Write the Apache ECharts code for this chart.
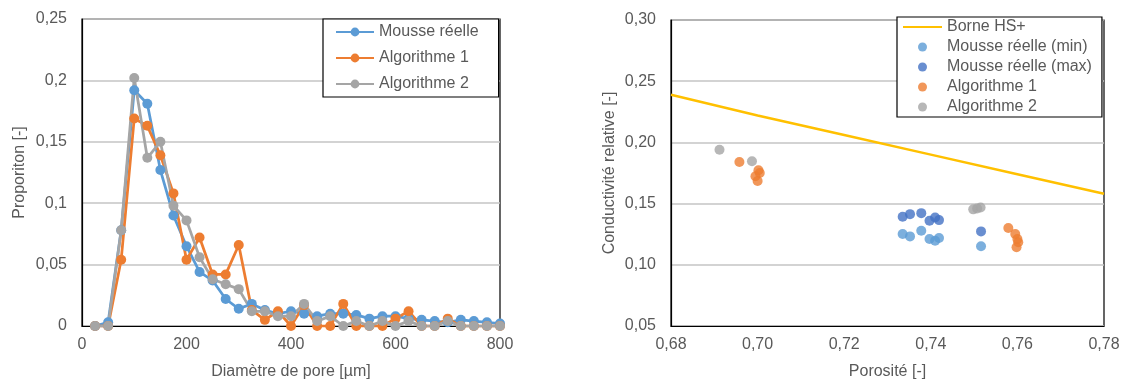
<!DOCTYPE html>
<html>
<head>
<meta charset="utf-8">
<script src="https://cdn.jsdelivr.net/npm/echarts@6/dist/echarts.min.js"></script>
<style>
  html, body { margin: 0; padding: 0; background: #fff; }
  #chart { width: 1123px; height: 385px; }
</style>
</head>
<body>
<div id="chart"></div>
<script>
// left chart: pore size distribution
const diametre = [25, 50, 75, 100, 125, 150, 175, 200, 225, 250, 275, 300, 325, 350, 375, 400,
  425, 450, 475, 500, 525, 550, 575, 600, 625, 650, 675, 700, 725, 750, 775, 800];
const mousseReelle = [0, 0.003, 0.078, 0.192, 0.181, 0.127, 0.09, 0.065, 0.044, 0.037, 0.022, 0.014,
  0.018, 0.013, 0.01, 0.012, 0.01, 0.008, 0.01, 0.01, 0.009, 0.006, 0.008, 0.008, 0.006, 0.005,
  0.004, 0.003, 0.005, 0.004, 0.003, 0.002];
const algo1 = [0, 0, 0.054, 0.169, 0.163, 0.139, 0.108, 0.054, 0.072, 0.042, 0.042, 0.066,
  0.013, 0.005, 0.012, 0, 0.017, 0, 0, 0.018, 0, 0, 0, 0.006, 0.012, 0, 0, 0.006, 0, 0, 0, 0];
const algo2 = [0, 0, 0.078, 0.202, 0.137, 0.15, 0.098, 0.086, 0.056, 0.038, 0.034, 0.03,
  0.012, 0.012, 0.008, 0.008, 0.018, 0.004, 0.008, 0, 0.004, 0, 0.004, 0, 0.004, 0, 0, 0.004, 0, 0, 0, 0];

// right chart: relative conductivity vs porosity
const hsPorosite = [0.68, 0.70, 0.72, 0.74, 0.76, 0.78];
const hsBorne = [0.239, 0.222, 0.206, 0.190, 0.174, 0.158];
const mousseMin = [[0.7335, 0.1251], [0.7352, 0.1232], [0.7378, 0.1278], [0.7397, 0.1211],
  [0.741, 0.1197], [0.7419, 0.1219], [0.7516, 0.1151]];
const mousseMax = [[0.7335, 0.1392], [0.7352, 0.1414], [0.7378, 0.1422], [0.7397, 0.136],
  [0.741, 0.1386], [0.7419, 0.1365], [0.7516, 0.1273]];
const algo1Pts = [[0.6958, 0.184], [0.7002, 0.1773], [0.7005, 0.175], [0.6995, 0.1724], [0.7, 0.1684],
  [0.7579, 0.13], [0.7595, 0.1251], [0.76, 0.121], [0.7602, 0.1184], [0.7598, 0.1143]];
const algo2Pts = [[0.6912, 0.194], [0.6987, 0.1846], [0.7498, 0.1453], [0.7507, 0.146], [0.7515, 0.1468]];

const textColor = "#595959";
const font = "'Liberation Sans', Arial, sans-serif";
const gridLine = { lineStyle: { color: "#C4C4C4", width: 1.5 } };

const comma = (v, d) => (d == null ? String(Math.round(v * 100) / 100) : v.toFixed(d)).replace(".", ",");

const chart = echarts.init(document.getElementById("chart"));

const lineSerie = (name, values, color) => ({
  name,
  type: "line",
  xAxisIndex: 0,
  yAxisIndex: 0,
  data: diametre.map((d, i) => [d, values[i]]),
  symbol: "circle",
  symbolSize: 10,
  color,
  lineStyle: { width: 2.75 }
});

const scatterSerie = (name, points, color) => ({
  name,
  type: "scatter",
  xAxisIndex: 1,
  yAxisIndex: 1,
  data: points,
  symbolSize: 10,
  color
});

const option = {
  animation: false,
  textStyle: { fontFamily: font, color: textColor },
  grid: [
    { left: 82, top: 19, width: 418, height: 308, show: true, borderColor: "#000", borderWidth: 1.2 },
    { left: 671, top: 20, width: 433, height: 307, show: true, borderColor: "#000", borderWidth: 1.2 }
  ],
  legend: [
    {
      data: ["Mousse réelle", "Algorithme 1", "Algorithme 2"],
      orient: "vertical",
      left: 323,
      top: 19,
      padding: [5, 20, 5, 12],
      itemGap: 10,
      itemWidth: 38,
      itemHeight: 11,
      borderColor: "#000",
      borderWidth: 1.2,
      backgroundColor: "#fff",
      textStyle: { fontFamily: font, fontSize: 16, color: textColor }
    },
    {
      data: [
        { name: "Borne HS+", itemStyle: { opacity: 0 } },
        "Mousse réelle (min)", "Mousse réelle (max)", "Algorithme 1 ", "Algorithme 2 "
      ],
      orient: "vertical",
      left: 897,
      top: 17,
      padding: [2, 10, 2, 5],
      itemGap: 4,
      itemWidth: 39,
      itemHeight: 9,
      borderColor: "#000",
      borderWidth: 1.2,
      backgroundColor: "#fff",
      textStyle: { fontFamily: font, fontSize: 16, color: textColor }
    }
  ],
  xAxis: [
    {
      gridIndex: 0,
      type: "value",
      min: 0,
      max: 800,
      interval: 200,
      name: "Diamètre de pore [µm]",
      nameLocation: "middle",
      nameGap: 38,
      nameTextStyle: { fontSize: 16, color: textColor, fontFamily: font },
      axisLine: { lineStyle: { color: "#000", width: 1.2 } },
      axisTick: { show: false },
      splitLine: { show: false },
      axisLabel: { fontSize: 16, color: textColor, margin: 11 }
    },
    {
      gridIndex: 1,
      type: "value",
      min: 0.68,
      max: 0.78,
      interval: 0.02,
      name: "Porosité [-]",
      nameLocation: "middle",
      nameGap: 38,
      nameTextStyle: { fontSize: 16, color: textColor, fontFamily: font },
      axisLine: { lineStyle: { color: "#000", width: 1.2 } },
      axisTick: { show: false },
      splitLine: { show: false },
      axisLabel: { fontSize: 16, color: textColor, margin: 11, formatter: (v) => comma(v, 2) }
    }
  ],
  yAxis: [
    {
      gridIndex: 0,
      type: "value",
      min: 0,
      max: 0.25,
      interval: 0.05,
      name: "Proporiton [-]",
      nameLocation: "middle",
      nameGap: 54,
      nameTextStyle: { fontSize: 16, color: textColor, fontFamily: font },
      axisLine: { show: true, lineStyle: { color: "#000", width: 1.2 } },
      axisTick: { show: false },
      splitLine: gridLine,
      axisLabel: { fontSize: 16, color: textColor, margin: 15, formatter: (v) => comma(v) }
    },
    {
      gridIndex: 1,
      type: "value",
      min: 0.05,
      max: 0.3,
      interval: 0.05,
      name: "Conductivité relative [-]",
      nameLocation: "middle",
      nameGap: 53,
      nameTextStyle: { fontSize: 16, color: textColor, fontFamily: font },
      axisLine: { show: true, lineStyle: { color: "#000", width: 1.2 } },
      axisTick: { show: false },
      splitLine: gridLine,
      axisLabel: { fontSize: 16, color: textColor, margin: 15, formatter: (v) => comma(v, 2) }
    }
  ],
  series: [
    lineSerie("Mousse réelle", mousseReelle, "#5B9BD5"),
    lineSerie("Algorithme 1", algo1, "#ED7D31"),
    lineSerie("Algorithme 2", algo2, "#A5A5A5"),
    {
      name: "Borne HS+",
      type: "line",
      xAxisIndex: 1,
      yAxisIndex: 1,
      data: hsPorosite.map((p, i) => [p, hsBorne[i]]),
      showSymbol: false,
      symbol: "none",
      color: "#FFC000",
      lineStyle: { width: 2.5 }
    },
    scatterSerie("Mousse réelle (min)", mousseMin, "#5B9BD5"),
    scatterSerie("Mousse réelle (max)", mousseMax, "#4472C4"),
    scatterSerie("Algorithme 1 ", algo1Pts, "#ED7D31"),
    scatterSerie("Algorithme 2 ", algo2Pts, "#A5A5A5")
  ]
};

chart.setOption(option);
</script>
</body>
</html>
